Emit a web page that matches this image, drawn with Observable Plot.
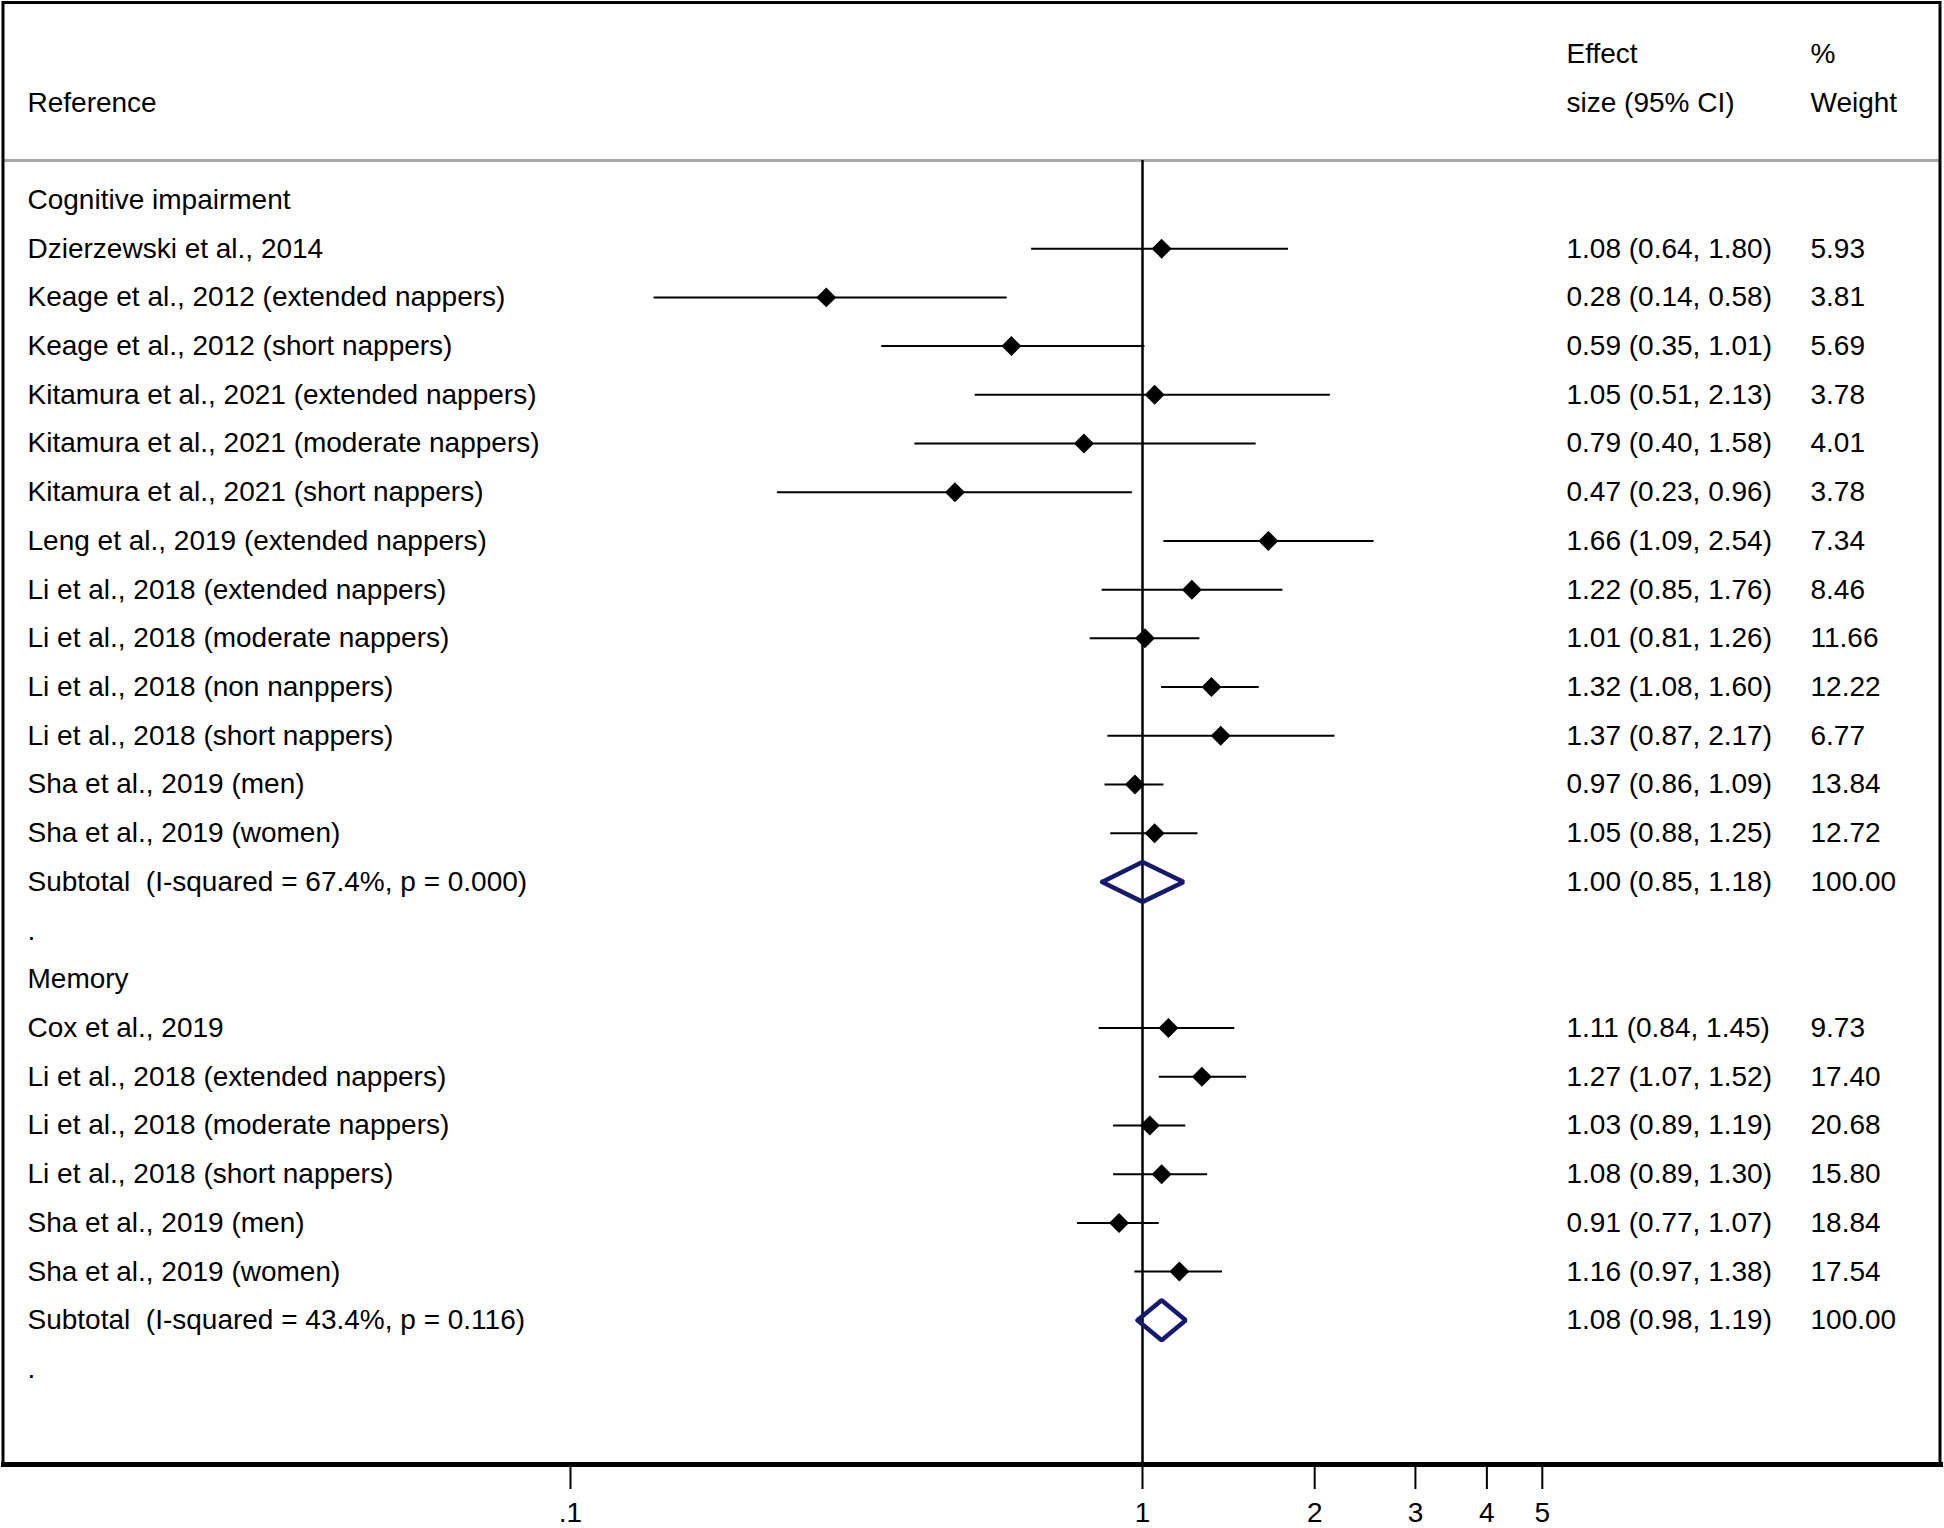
<!DOCTYPE html>
<html>
<head>
<meta charset="utf-8">
<script src="https://cdn.jsdelivr.net/npm/d3@7"></script>
<script src="https://cdn.jsdelivr.net/npm/@observablehq/plot@0.6"></script>
<style>
  body { margin: 0; background: #fff; }
  svg { display: block; }
</style>
</head>
<body>
<div id="chart"></div>
<script>
// ---- Data ----
const rowLabels = [
  "Cognitive impairment",
  "Dzierzewski et al., 2014",
  "Keage et al., 2012 (extended nappers)",
  "Keage et al., 2012 (short nappers)",
  "Kitamura et al., 2021 (extended nappers)",
  "Kitamura et al., 2021 (moderate nappers)",
  "Kitamura et al., 2021 (short nappers)",
  "Leng et al., 2019 (extended nappers)",
  "Li et al., 2018 (extended nappers)",
  "Li et al., 2018 (moderate nappers)",
  "Li et al., 2018 (non nanppers)",
  "Li et al., 2018 (short nappers)",
  "Sha et al., 2019 (men)",
  "Sha et al., 2019 (women)",
  "Subtotal\u00a0\u00a0(I-squared = 67.4%, p = 0.000)",
  ".",
  "Memory",
  "Cox et al., 2019",
  "Li et al., 2018 (extended nappers)",
  "Li et al., 2018 (moderate nappers)",
  "Li et al., 2018 (short nappers)",
  "Sha et al., 2019 (men)",
  "Sha et al., 2019 (women)",
  "Subtotal\u00a0\u00a0(I-squared = 43.4%, p = 0.116)",
  "."
];
const effect = [null, 1.08, 0.28, 0.59, 1.05, 0.79, 0.47, 1.66, 1.22, 1.01, 1.32, 1.37, 0.97, 1.05, 1.00,
                null, null, 1.11, 1.27, 1.03, 1.08, 0.91, 1.16, 1.08, null];
const lower  = [null, 0.64, 0.14, 0.35, 0.51, 0.40, 0.23, 1.09, 0.85, 0.81, 1.08, 0.87, 0.86, 0.88, 0.85,
                null, null, 0.84, 1.07, 0.89, 0.89, 0.77, 0.97, 0.98, null];
const upper  = [null, 1.80, 0.58, 1.01, 2.13, 1.58, 0.96, 2.54, 1.76, 1.26, 1.60, 2.17, 1.09, 1.25, 1.18,
                null, null, 1.45, 1.52, 1.19, 1.30, 1.07, 1.38, 1.19, null];
const weight = [null, 5.93, 3.81, 5.69, 3.78, 4.01, 3.78, 7.34, 8.46, 11.66, 12.22, 6.77, 13.84, 12.72, 100.00,
                null, null, 9.73, 17.40, 20.68, 15.80, 18.84, 17.54, 100.00, null];
const tickValues = [0.1, 1, 2, 3, 4, 5];
const tickLabels = [".1", "1", "2", "3", "4", "5"];
const headerLabel = ["Reference"];
const headerEffect = ["Effect", "size (95% CI)"];
const headerWeight = ["%", "Weight"];

// ---- Derived tables ----
const fmt = d3.format(".2f");
const rows = rowLabels.map((label, i) => ({
  row: i, label, es: effect[i], lci: lower[i], uci: upper[i], w: weight[i],
  sub: label.startsWith("Subtotal")
}));
const valueRows = rows.filter(d => d.es != null);
const studies = valueRows.filter(d => !d.sub);
const subtotals = valueRows.filter(d => d.sub);
const diamondHalf = 0.41;
const diamondPts = subtotals.flatMap(d => [
  {g: d.row, x: d.lci, y: d.row},
  {g: d.row, x: d.es, y: d.row - diamondHalf},
  {g: d.row, x: d.uci, y: d.row},
  {g: d.row, x: d.es, y: d.row + diamondHalf},
  {g: d.row, x: d.lci, y: d.row}
]);
// header lines sit on rows -3 and -2 (above the separator)
const hdrRef = headerLabel.map((t, i) => ({row: -2 + i, text: t}));
const hdrEs = headerEffect.map((t, i) => ({row: -3 + i, text: t}));
const hdrW = headerWeight.map((t, i) => ({row: -3 + i, text: t}));
const colDx = {ref: 24, es: 1563, w: 1807};

const W = 1944, H = 1528;
const FONT = "'Liberation Sans', Arial, Helvetica, sans-serif";
const FS = 28;
const sepRow = -0.81;

const txt = (data, text, dx) => Plot.text(data, {
  y: "row", text, frameAnchor: "left", dx, textAnchor: "start", fill: "#000", fontSize: FS
});

const chart = Plot.plot({
  width: W, height: H,
  marginTop: 160, marginBottom: 64, marginLeft: 3, marginRight: 4,
  style: {fontFamily: FONT, fontSize: FS + "px", color: "#000", background: "#fff"},
  x: {type: "log", domain: [0.1, 1], range: [570, 1142]},
  y: {domain: [sepRow, 25.96], range: [160, 1464], axis: null},
  marks: [
    Plot.ruleY([sepRow], {stroke: "#a8a8a8", strokeWidth: 3}),
    Plot.ruleX([1], {stroke: "#000", strokeWidth: 2.5}),
    Plot.ruleY(studies, {y: "row", x1: "lci", x2: "uci", stroke: "#000", strokeWidth: 2}),
    Plot.dot(studies, {x: "es", y: "row", symbol: "diamond2", r: 9, fill: "#000", stroke: "none"}),
    Plot.line(diamondPts, {x: "x", y: "y", z: "g", stroke: "#161a6e", strokeWidth: 4.5, strokeLinejoin: "miter", curve: "linear"}),
    // text columns
    txt(rows, "label", colDx.ref),
    txt(valueRows, d => `${fmt(d.es)} (${fmt(d.lci)}, ${fmt(d.uci)})`, colDx.es),
    txt(valueRows, d => fmt(d.w), colDx.w),
    txt(hdrRef, "text", colDx.ref),
    txt(hdrEs, "text", colDx.es),
    txt(hdrW, "text", colDx.w),
    Plot.frame({anchor: "bottom", stroke: "#000", strokeWidth: 5}),
    Plot.axisX(tickValues, {
      anchor: "bottom", tickSize: 25, tickPadding: 13, strokeWidth: 2, fontSize: FS, fill: "#000",
      tickFormat: d => tickLabels[tickValues.indexOf(d)]
    })
  ]
});

// outer border of the graph region
d3.select(chart).append("rect")
  .attr("x", 3).attr("y", 2.5).attr("width", 1937).attr("height", 1461.5)
  .attr("fill", "none").attr("stroke", "#000").attr("stroke-width", 3);

document.getElementById("chart").appendChild(chart);
</script>
</body>
</html>
